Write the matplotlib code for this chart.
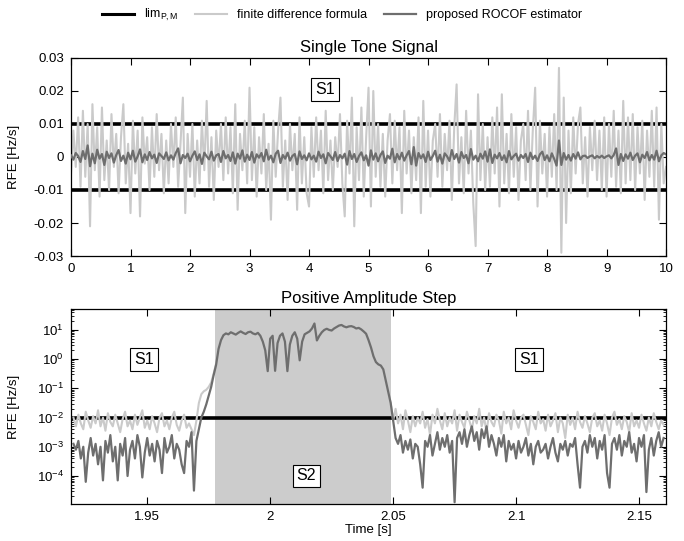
import numpy as np
import matplotlib
matplotlib.use('Agg')
import matplotlib.pyplot as plt
from matplotlib.ticker import FuncFormatter, FixedLocator, LogLocator, NullFormatter, LogFormatterSciNotation

plt.rcParams['font.family'] = ['Liberation Sans', 'DejaVu Sans']
plt.rcParams['mathtext.fontset'] = 'custom'
plt.rcParams['mathtext.rm'] = 'Liberation Sans'
plt.rcParams['mathtext.it'] = 'Liberation Sans:italic'
plt.rcParams['axes.unicode_minus'] = False

# === Top panel: single tone, t = 0..10 s every 0.04 s (values in mHz/s) ===
lim_top = 0.01
fd_tone = [
    -5, 8, -3, 12, -9, 14, -6, 10, -21, 16, -4, 9, -12, 15, -7, 5, -10, 13, -3, 7, -11, 6, 16, -8, 4,
    -17, 11, -5, 8, -18, 12, -2, 6, -10, 9, -6, 13, -4, 7, -11, 5, -8, 10, -3, 12, -9, 4, 18, -17, 7,
    -6, 10, -12, 5, -8, 11, -4, 17, -9, 6, -13, 8, -3, 10, -7, 12, -5, 9, -11, 16, -16, 7, -4, 11, -8,
    21, -7, 9, -12, 6, -5, 13, -10, 4, -19, 11, -6, 8, 18, -9, 5, -13, 10, -4, 7, -16, 12, -8, 6, -11,
    -15, 9, -6, 12, -4, 8, -11, 14, -7, 5, -10, 6, -3, 13, -8, -18, 11, -5, 18, -21, 9, -7, 15, -12, 6,
    21, -15, 20, -6, 10, -9, 7, -12, 5, 13, -8, 11, -4, 9, -17, 14, -5, 8, -11, 6, -7, 12, -17, 17, -9,
    8, -12, 5, 10, -6, 13, -9, 7, -4, 11, -13, 9, 22, -8, 6, -11, 14, -5, 8, -14, -27, 19, -7, 10, -10,
    6, -9, 12, -5, 15, -15, 19, -8, 7, -11, 13, -6, 9, -13, 5, 10, -7, 14, -10, 8, 21, -15, 11, -5, 7,
    -12, 9, -6, 13, -10, 27, -29, 18, -20, 8, -11, 12, -5, 10, 15, -8, 6, -12, 9, -4, 11, -7, 8, -10, 12,
    -12, 10, -6, 14, -9, 8, -11, 17, -8, 12, -7, 13, -10, 9, -5, 11, -13, 8, -6, 14, -9, 15, -19, 10, -8,
    -3]
est_tone = [
    0.5, -0.8, 1.2, 0.3, -1.5, 1.8, -0.6, 3.5, -2.8, 1.0, -1.9, 2.2, -0.5, 0.9, -2.4, 1.6, -0.3, 1.1, -1.7, 0.6, 2.1, -1.2, 0.4, -2.0, 1.3,
    -0.7, 1.9, -1.4, 0.2, 2.3, -1.6, 0.8, -0.9, 1.5, -0.4, 0.7, -1.8, 1.1, 0.3, -0.6, 1.4, -1.0, 0.5, -0.8, 1.2, 2.6, -1.9, 0.6, -0.3, 1.0,
    -1.3, 0.4, 1.7, -0.9, 0.8, -2.1, 1.3, 0.2, -0.7, 1.6, -1.1, 0.5, 0.9, -1.5, 1.8, -0.4, 0.6, -1.2, 1.4, -2.0, 1.0, -0.5, 2.0, -1.4, 0.7,
    -0.9, 1.5, -1.7, 0.8, -0.2, 1.2, -1.3, 2.2, -0.8, 0.4, -1.6, 1.0, 1.9, -1.8, 0.6, -0.5, 1.3, -1.1, 0.3, 0.9, -2.2, 1.7, -0.6, 0.5, -1.0,
    1.1, -0.7, 0.4, -1.4, 1.6, -0.3, 0.8, -1.9, 1.2, 0.2, -0.9, 1.5, -1.2, 0.6, -0.4, 1.0, -2.3, 1.8, -0.6, 0.9, -1.5, 0.3, 1.4, -1.0, 0.5,
    -2.6, 2.0, -0.8, 1.1, -1.3, 0.6, 1.7, -1.8, 0.4, -0.5, 2.5, -1.6, 0.9, -0.7, 1.3, -1.1, 0.5, 1.8, -2.2, 3.0, -2.6, 1.2, -0.4, 0.8, -1.5,
    1.6, -0.9, 0.3, 1.9, -1.4, 0.7, -2.0, 1.1, 0.2, -1.2, 2.1, -0.6, 0.9, -1.7, 1.5, -0.3, 0.6, -1.9, 2.4, -0.8, 0.4, -1.3, 1.0, -0.5, 1.7,
    -1.4, 2.3, -1.8, 0.7, -0.4, 1.2, -0.9, 0.5, -1.6, 1.8, -0.7, 0.3, 1.0, -1.1, 0.6, -0.3, 0.9, -1.5, 1.3, -0.6, 0.4, -1.2, 0.8, 1.6, -0.9,
    0.5, -1.3, 1.1, -0.6, -2.6, 5.0, -2.4, 1.2, -0.8, 0.6, -1.1, 0.9, -0.5, 1.4, -0.7, 0.3, 0.4, -0.3, 0.2, 0.5, -0.4, 0.3, -0.2, 0.4, -0.3,
    0.2, 0.5, -0.4, 0.6, 2.6, -2.4, 0.9, -1.2, 0.8, -0.5, 1.3, -0.9, 0.4, 1.1, -1.6, 0.7, -0.3, 1.5, -1.0, 0.6, -0.8, 1.9, -1.3, 0.5, 1.2,
    0.8]

# === Bottom panel: amplitude step, 1 ms samples from 1.920 s (log10 of RFE) ===
lim_step = 0.01
step_start, step_end = 1.9775, 2.049
est_pre = [
    -2.9, -3.1, -2.8, -3.4, -3.0, -4.2, -3.2, -2.7, -3.3, -2.9,
    -3.6, -3.0, -4.15, -2.8, -3.2, -2.6, -3.5, -3.0, -4.15, -2.9,
    -3.3, -2.7, -4.0, -3.1, -2.8, -3.4, -2.6, -3.0, -4.05, -3.2,
    -2.7, -3.3, -2.9, -3.5, -2.8, -3.1, -3.9, -2.7, -3.2, -3.0,
    -2.6, -3.4, -2.9, -3.1, -3.6, -3.9, -2.8, -3.0, -2.5, -4.5,
    -2.8]
est_step = [
    -2.4, -2.0, -1.8, -1.55, -1.25, -0.95, -0.55, -0.2, 0.35, 0.65,
    0.82, 0.88, 0.85, 0.92, 0.88, 0.84, 0.9, 0.95, 0.9, 0.86,
    0.92, 0.94, 0.88, 0.85, 0.9, 0.8, 0.6, 0.3, -0.41, 0.7,
    0.8, -0.4, 0.55, 0.8, 0.88, 0.6, -0.41, 0.5, 0.8, 0.92,
    0.7, -0.04, 0.6, 0.85, 0.9, 0.95, 1.05, 1.22, 0.64, 0.8,
    0.92, 1.0, 1.04, 1.0, 0.98, 1.05, 1.1, 1.15, 1.17, 1.12,
    1.09, 1.12, 1.13, 1.1, 1.05, 1.07, 1.02, 0.95, 0.87, 0.65,
    0.4, 0.1, -0.1, -0.18, -0.22, -0.35, -0.73, -1.1, -1.5, -2.1]
est_post = [
    -2.7, -2.9, -2.6, -3.2, -2.8, -3.1, -2.75, -3.4, -2.9, -3.0,
    -3.6, -4.4, -2.8, -3.0, -2.6, -3.3, -2.9, -2.5, -3.1, -2.7,
    -3.0, -2.6, -3.2, -2.8, -4.9, -2.7, -2.5, -2.9, -2.4, -3.0,
    -2.6, -2.3, -2.8, -2.5, -3.1, -2.4, -2.7, -2.3, -3.0, -2.6,
    -2.9, -3.3, -2.7, -3.0, -2.6, -3.5, -2.8, -3.1, -2.9, -3.4,
    -2.8, -3.2, -3.0, -2.7, -3.3, -2.9, -3.6, -3.0, -2.8, -3.2,
    -3.1, -2.9, -3.4, -3.0, -2.7, -3.2, -3.5, -2.9, -3.1, -2.8,
    -3.3, -2.9, -3.0, -2.7, -3.6, -4.4, -3.0, -2.8, -3.2, -2.6,
    -3.0, -2.7, -3.4, -2.8, -3.1, -2.6, -3.9, -4.4, -2.9, -2.7,
    -3.1, -2.6, -3.3, -2.8, -3.0, -2.5, -3.2, -2.9, -3.5, -2.7,
    -3.0, -2.6, -4.55, -3.1, -2.7, -3.3, -2.8, -2.5, -3.0, -2.7]
fd_pre = [
    -2.0, -2.3, -1.9, -2.2, -2.4, -1.8, -2.1, -2.35, -1.95, -2.2,
    -1.75, -2.3, -2.0, -2.45, -1.85, -2.15, -2.3, -1.9, -2.2, -2.5,
    -2.05, -1.8, -2.3, -2.1, -2.4, -1.9, -2.25, -2.0, -1.75, -2.35,
    -2.1, -2.4, -1.95, -2.2, -2.5, -2.0, -1.85, -2.3, -2.1, -2.4,
    -2.0, -1.8, -2.25, -2.45, -2.1, -1.9, -2.35, -2.2, -2.4, -2.6,
    -2.1]
fd_ramp = [-1.5, -1.2, -1.1, -1.05, -0.95, -0.8, -0.5, -0.15]
fd_post = [
    -1.7, -2.2, -1.9, -2.4, -1.75, -2.1, -2.5, -1.95, -2.3, -2.0,
    -2.2, -1.8, -2.35, -2.05, -2.6, -1.9, -2.2, -1.7, -2.1, -2.4,
    -1.85, -2.3, -2.0, -2.2, -1.75, -2.45, -1.9, -2.15, -2.35, -1.8,
    -2.1, -2.4, -1.95, -2.2, -1.7, -2.3, -2.0, -2.5, -1.85, -2.15,
    -2.3, -1.9, -2.1, -2.55, -1.8, -2.2, -2.0, -2.4, -1.75, -2.1,
    -2.35, -2.0, -1.9, -2.25, -2.6, -1.95, -2.15, -2.4, -1.8, -2.2,
    -2.05, -2.45, -1.9, -2.3, -2.1, -1.85, -2.5, -2.0, -2.2, -2.7,
    -1.9, -2.25, -2.0, -2.4, -1.8, -2.15, -2.35, -1.95, -2.2, -2.5,
    -2.0, -1.85, -2.3, -2.1, -2.45, -1.9, -2.2, -2.6, -2.0, -1.8,
    -2.25, -2.05, -2.4, -1.95, -2.15, -2.5, -1.85, -2.3, -2.1, -2.35,
    -1.9, -2.2, -2.45, -2.0, -2.3, -1.85, -2.15, -2.4, -2.1, -2.25]
log_ticks = [1e-4, 1e-3, 1e-2, 1e-1, 1e0, 1e1]

LIGHT = '#cacaca'
DARK = '#6e6e6e'

t_tone = np.arange(len(fd_tone)) * 0.04
fd_tone_v = np.array(fd_tone) * 1e-3
est_tone_v = np.array(est_tone) * 1e-3

est_exp = np.array(est_pre + est_step + est_post)
fd_exp = np.array(fd_pre + fd_ramp + est_step[len(fd_ramp):] + fd_post)
t_step = 1.920 + np.arange(len(est_exp)) * 0.001

fig = plt.figure(figsize=(6.84, 5.41), dpi=100)
ax1 = fig.add_axes([0.1038, 0.5268, 0.870, 0.366])
ax2 = fig.add_axes([0.1038, 0.0684, 0.870, 0.3604])

# --- top ---
ax1.axhline(lim_top, color='black', lw=2.6, zorder=1)
ax1.axhline(-lim_top, color='black', lw=2.6, zorder=1)
ax1.plot(t_tone, fd_tone_v, color=LIGHT, lw=1.5, zorder=2)
ax1.plot(t_tone, est_tone_v, color=DARK, lw=1.6, zorder=3)
ax1.set_xlim(0, 10)
ax1.set_ylim(-0.03, 0.03)
ax1.set_xticks(range(0, 11))
ax1.set_yticks([-0.03, -0.02, -0.01, 0, 0.01, 0.02, 0.03])
ax1.yaxis.set_major_formatter(FuncFormatter(lambda v, p: '%g' % round(v, 3)))
ax1.set_title('Single Tone Signal', fontsize=12, pad=4)
box = dict(boxstyle='square,pad=0.25', fc='white', ec='black', lw=0.8)
ax1.text(4.27, 0.0206, 'S1', fontsize=11.5, ha='center', va='center', bbox=box, zorder=5)

# --- bottom ---
ax2.axvspan(step_start, step_end, color='#cccccc', lw=0, zorder=0)
ax2.axhline(lim_step, color='black', lw=2.6, zorder=1)
ax2.plot(t_step, 10 ** fd_exp, color=LIGHT, lw=1.5, zorder=2)
ax2.plot(t_step, 10 ** est_exp, color=DARK, lw=1.6, zorder=3)
ax2.set_yscale('log')
ax2.set_xlim(1.919, 2.161)
ax2.set_ylim(1.1e-5, 52)
ax2.set_xticks([1.95, 2.0, 2.05, 2.1, 2.15])
ax2.xaxis.set_major_formatter(FuncFormatter(lambda v, p: '%g' % round(v, 3)))
ax2.yaxis.set_major_locator(FixedLocator(log_ticks))
ax2.yaxis.set_major_formatter(LogFormatterSciNotation())
ax2.yaxis.set_minor_locator(LogLocator(base=10, subs=np.arange(2, 10), numticks=12))
ax2.yaxis.set_minor_formatter(NullFormatter())
ax2.set_xlabel('Time [s]', fontsize=9.5, labelpad=1)
ax2.set_title('Positive Amplitude Step', fontsize=12, pad=4)
ax2.text(1.9487, 1.0, 'S1', fontsize=11.5, ha='center', va='center', bbox=box, zorder=5)
ax2.text(2.1052, 1.0, 'S1', fontsize=11.5, ha='center', va='center', bbox=box, zorder=5)
ax2.text(2.0147, 1e-4, 'S2', fontsize=11.5, ha='center', va='center', bbox=box, zorder=5)

for ax in (ax1, ax2):
    ax.set_ylabel('RFE [Hz/s]', fontsize=9.5)
    ax.yaxis.set_label_coords(-0.086, 0.5)
    ax.tick_params(which='both', direction='in', top=True, right=True, labelsize=9.5, pad=5)
    ax.tick_params(which='major', length=5, width=0.8)
    ax.tick_params(which='minor', length=2.5, width=0.6)
    for s in ax.spines.values():
        s.set_linewidth(0.9)

handles = [plt.Line2D([], [], color='black', lw=2.2),
           plt.Line2D([], [], color=LIGHT, lw=1.5),
           plt.Line2D([], [], color=DARK, lw=1.6)]
labels = [r'lim$_{\mathrm{P,M}}$', 'finite difference formula', 'proposed ROCOF estimator']
fig.legend(handles, labels, loc='center', bbox_to_anchor=(0.5, 0.972), ncol=3,
           frameon=False, fontsize=9, handlelength=2.6, columnspacing=1.3, handletextpad=0.8)

fig.savefig('out.png', dpi=100)
